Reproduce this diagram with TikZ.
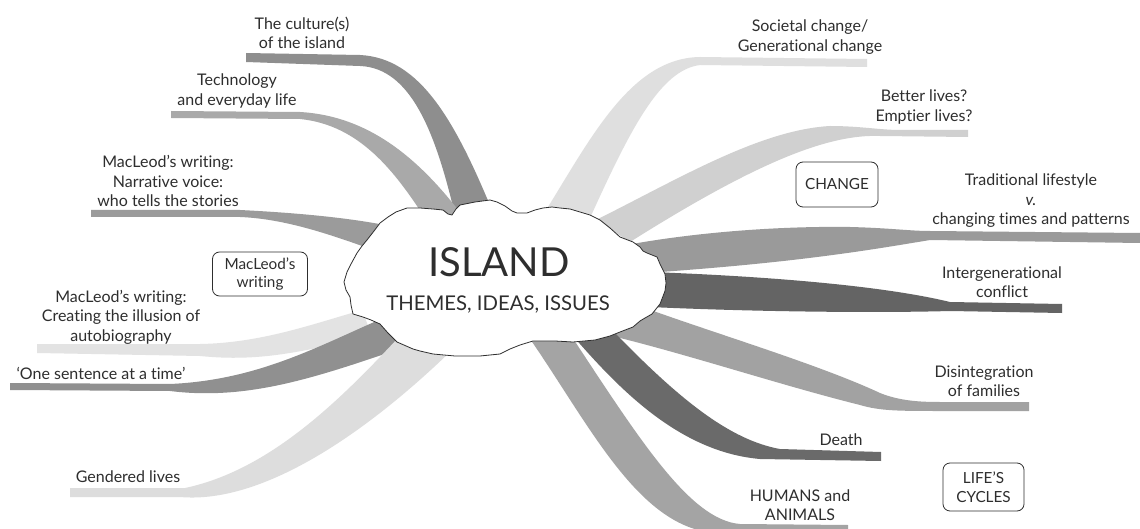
\documentclass[tikz,border=0pt]{standalone}
\usepackage{fontspec}
\setmainfont{Lato}[Ligatures=NoCommon]
\definecolor{txt}{HTML}{2E2E2E}
\definecolor{cCulture}{HTML}{8E8E8E}
\definecolor{cTech}{HTML}{A9A9A9}
\definecolor{cNarr}{HTML}{9B9B9B}
\definecolor{cAuto}{HTML}{E3E3E3}
\definecolor{cOne}{HTML}{909090}
\definecolor{cGender}{HTML}{DDDDDD}
\definecolor{cSoc}{HTML}{DFDFDF}
\definecolor{cBetter}{HTML}{D0D0D0}
\definecolor{cTrad}{HTML}{9A9A9A}
\definecolor{cInter}{HTML}{646464}
\definecolor{cDisint}{HTML}{A2A2A2}
\definecolor{cDeath}{HTML}{6A6A6A}
\definecolor{cHuman}{HTML}{A4A4A4}
\tikzset{
  lbl/.style={text=txt, align=center, inner sep=0pt, font=\fontsize{16}{19.5}\selectfont},
  tagbox/.style={draw=txt, line width=0.8pt, rounded corners=7pt, text=txt, align=center,
    font=\fontsize{15.3}{18.5}\selectfont, minimum height=44pt, inner sep=0pt},
  cloudline/.style={draw=txt, line width=0.8pt, fill=white, line join=round},
}
\begin{document}
\begin{tikzpicture}[x=1pt,y=-1pt]
\useasboundingbox[fill=white] (0,0) rectangle (1140,529);

% ---- ribbons (left) ----
\fill[cCulture] (246,53) -- (360,55) .. controls (420,58) and (455,120) .. (494,215)
  -- (455,215) .. controls (435,130) and (410,68) .. (360,66) -- (246,62) -- cycle;
\fill[cTech] (171,111) -- (300,112) .. controls (370,116) and (420,160) .. (462,215)
  -- (425,218) .. controls (395,172) and (360,125) .. (300,119) -- (171,118) -- cycle;
\fill[cNarr] (91,210) -- (240,210) .. controls (300,213) and (350,218) .. (390,226)
  -- (390,256) .. controls (340,238) and (290,219) .. (240,217) -- (91,217) -- cycle;
\fill[cAuto] (37,344) -- (200,344) .. controls (260,343) and (310,325) .. (362,310)
  -- (372,336) .. controls (300,352) and (260,362) .. (200,356) -- (37,353) -- cycle;
\fill[cOne] (10,383) -- (170,384) .. controls (260,380) and (320,345) .. (388,316)
  -- (408,346) .. controls (320,376) and (250,401) .. (170,391) -- (10,390) -- cycle;
\fill[cGender] (70,488) -- (185,488) .. controls (270,470) and (340,400) .. (398,338)
  -- (452,350) .. controls (380,420) and (270,505) .. (180,497) -- (70,497) -- cycle;

% ---- ribbons (right) ----
\fill[cSoc] (543,215) .. controls (590,140) and (630,58) .. (700,57) -- (867,59)
  -- (867,67) -- (700,65) .. controls (660,70) and (630,130) .. (590,218) -- cycle;
\fill[cBetter] (596,220) .. controls (680,178) and (760,130) .. (830,126)
  .. controls (860,126) and (880,130) .. (900,130) -- (968,130) -- (968,137) -- (880,136)
  .. controls (830,134) and (760,160) .. (630,242) -- cycle;
\fill[cTrad] (632,244) .. controls (700,232) and (780,226) .. (850,227)
  .. controls (890,228) and (910,231) .. (930,231) -- (1140,233) -- (1140,243) -- (930,240)
  .. controls (870,250) and (800,262) .. (660,272) -- cycle;
\fill[cInter] (650,272) .. controls (760,276) and (880,285) .. (950,302) -- (1062,304)
  -- (1062,313) -- (950,311) .. controls (880,313) and (760,312) .. (650,307) -- cycle;
\fill[cDisint] (645,308) .. controls (720,335) and (820,365) .. (880,393)
  .. controls (900,401) and (920,402) .. (940,402) -- (1029,402) -- (1029,411) -- (940,411)
  .. controls (900,411) and (880,411) .. (860,405) .. controls (780,385) and (690,355) .. (612,336) -- cycle;
\fill[cDeath] (573,336) .. controls (620,390) and (680,452) .. (760,459) -- (881,461)
  -- (881,452) -- (780,449) .. controls (730,440) and (680,400) .. (614,332) -- cycle;
\fill[cHuman] (528,336) .. controls (590,425) and (640,532) .. (720,533) -- (848,534)
  -- (848,525) -- (740,524) .. controls (690,520) and (640,440) .. (570,334) -- cycle;

% ---- cloud ----
\draw[cloudline] (344,282) -- (347,272) -- (351,264) -- (357,253) -- (362,246) -- (367,240)
  -- (374,231) -- (380,223) -- (388,217) -- (396,212) -- (407,208) -- (420,208) -- (433,209)
  -- (443,210) -- (448,214) -- (452,215) -- (456,209) -- (460,205) -- (475,202) -- (490,200)
  -- (497,202) -- (505,206) -- (512,211) -- (517,213) -- (527,213) -- (535,210) -- (543,208)
  -- (552,207) -- (560,208) -- (570,209) -- (580,212) -- (590,215) -- (600,220) -- (610,228)
  -- (620,237) -- (633,242) -- (640,247) -- (643,251) -- (647,253) -- (652,255) -- (657,257)
  -- (660,264) -- (665,274) -- (666,283) -- (665,291) -- (660,304) -- (652,314) -- (645,318)
  -- (640,321) -- (633,327) -- (620,332) -- (610,336) -- (595,340) -- (573,342) -- (555,341)
  -- (533,341) -- (520,345) -- (510,349) -- (500,354) -- (480,356) -- (455,356) -- (433,354)
  -- (420,351) -- (413,349) -- (397,342) -- (388,333) -- (380,324) -- (371,320) -- (363,317)
  -- (353,314) -- (351,305) -- (350,297) -- (346,290) -- cycle;
\node[text=txt, inner sep=0pt, font=\fontsize{40}{40}\selectfont] (island) at (499,262) {ISLAND};
\node[text=txt, inner sep=0pt, font=\fontsize{20.3}{20.3}\selectfont] (themes) at (498,305) {THEMES, IDEAS, ISSUES};

% ---- labels ----
\node[lbl] (culture) at (302,33) {The culture(s)\\of the island};
\node[lbl] (tech) at (237,91) {Technology\\and everyday life};
\node[lbl] (narr) at (168,181) {MacLeod's writing:\\Narrative voice:\\who tells the stories};
\node[tagbox, minimum width=95pt] (mwbox) at (260,274) {MacLeod's\\writing};
\node[lbl] (auto) at (121,317) {MacLeod's writing:\\Creating the illusion of\\autobiography};
\node[lbl] (one) at (101,373) {`One sentence at a time'};
\node[lbl] (gender) at (128,477) {Gendered lives};
\node[lbl] (soc) at (810,37) {Societal change/\\Generational change};
\node[lbl] (better) at (924,107) {Better lives?\\Emptier lives?};
\node[tagbox, minimum width=82pt, minimum height=45pt] (changebox) at (837,184.5) {CHANGE};
\node[lbl] (trad) at (1031,201) {Traditional lifestyle\\\textit{v.}\\changing times and patterns};
\node[lbl] (inter) at (1002,282) {Intergenerational\\conflict};
\node[lbl] (disint) at (984,381) {Disintegration\\of families};
\node[lbl] (death) at (841,440) {Death};
\node[tagbox, minimum width=81pt, minimum height=48pt] (lifebox) at (983.5,487) {LIFE'S\\CYCLES};
\node[lbl] (human) at (800,505) {HUMANS and\\ANIMALS};
\end{tikzpicture}
\end{document}
